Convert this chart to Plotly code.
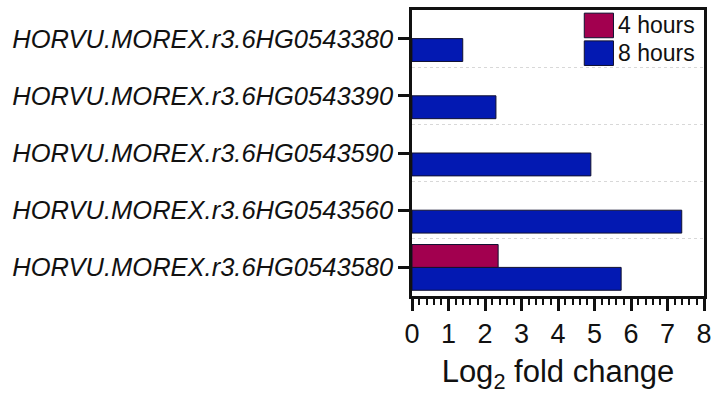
import plotly.graph_objects as go

# Genes, listed top to bottom
genes = [
    "HORVU.MOREX.r3.6HG0543380",
    "HORVU.MOREX.r3.6HG0543390",
    "HORVU.MOREX.r3.6HG0543590",
    "HORVU.MOREX.r3.6HG0543560",
    "HORVU.MOREX.r3.6HG0543580",
]
# Log2 fold change per time point (None = no bar)
fc_4h = [None, None, None, None, 2.36]
fc_8h = [1.39, 2.30, 4.90, 7.39, 5.73]

series_names = ["4 hours", "8 hours"]
series_colors = ["#A2004F", "#0319B2"]
x_ticks = [0, 1, 2, 3, 4, 5, 6, 7, 8]

FONT = "Arial, Liberation Sans, sans-serif"

# numeric row positions: first gene on top
n = len(genes)
ypos = [n - 1 - i for i in range(n)]

fig = go.Figure()
# 8 hours added first so it sits below 4 hours within each group
fig.add_trace(go.Bar(
    y=ypos, x=fc_8h, orientation="h", name=series_names[1],
    marker=dict(color=series_colors[1], line=dict(color="#101030", width=1)),
    showlegend=False,
))
fig.add_trace(go.Bar(
    y=ypos, x=fc_4h, orientation="h", name=series_names[0],
    marker=dict(color=series_colors[0], line=dict(color="#101030", width=1)),
    showlegend=False,
))

# Legend drawn as swatches plus labels in the top-right corner
legend_top = 0.989
row_h = 0.097
for i, (nm, col) in enumerate(zip(series_names, series_colors)):
    y1 = legend_top - i * row_h
    y0 = y1 - 0.086
    fig.add_shape(type="rect", xref="paper", yref="paper",
                  x0=0.59, x1=0.69, y0=y0, y1=y1,
                  fillcolor=col, line=dict(color="#101030", width=1))
    fig.add_annotation(xref="paper", yref="paper", x=0.70, y=(y0 + y1) / 2,
                       text=nm, showarrow=False, xanchor="left", yanchor="middle",
                       font=dict(family=FONT, size=23, color="#111111"))

fig.update_layout(
    width=719, height=394,
    margin=dict(l=412, r=7, t=10, b=97),
    paper_bgcolor="white", plot_bgcolor="white",
    barmode="group", bargap=0.2, bargroupgap=0,
    font=dict(family=FONT, color="#111111"),
)

fig.update_xaxes(
    range=[0, 8], tickvals=x_ticks, ticktext=[str(v) for v in x_ticks],
    ticks="outside", ticklen=12, tickwidth=2.5, tickcolor="#111111",
    showline=True, linewidth=2.5, linecolor="#111111", mirror=True,
    showgrid=False, zeroline=False,
    tickfont=dict(family=FONT, size=27, color="#111111"),
    minor=dict(dtick=0.2, tick0=0, ticks="outside", ticklen=6, tickwidth=1.5,
               tickcolor="#111111", showgrid=False),
    title=dict(text="Log<sub>2</sub> fold change", standoff=16,
               font=dict(family=FONT, size=31, color="#111111")),
)

fig.update_yaxes(
    range=[-0.5, n - 0.5], tickvals=ypos, ticktext=genes,
    ticks="outside", ticklen=11, tickwidth=2.5, tickcolor="#111111",
    showline=True, linewidth=2.5, linecolor="#111111", mirror=True,
    showgrid=False, zeroline=False,
    tickfont=dict(family=FONT, size=25.5, color="#111111", style="italic"),
    ticklabelstandoff=0,
    minor=dict(tick0=0.5, dtick=1, ticks="", showgrid=True,
               gridcolor="#D8D8D8", griddash="dot", gridwidth=1),
)

fig.write_html("out.html")
